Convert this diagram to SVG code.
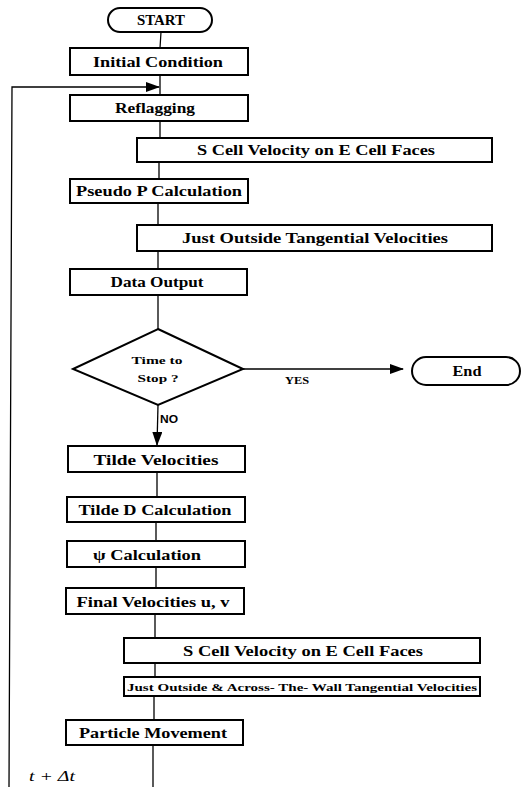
<svg xmlns="http://www.w3.org/2000/svg" width="523" height="787" viewBox="0 0 523 787">
<style>
.box{fill:#fff;stroke:#000;stroke-width:2}
.t{font-family:"Liberation Serif",serif;font-weight:bold;font-size:15px;fill:#000;text-anchor:middle}
.s{font-size:11px}
.ln{fill:none;stroke:#000;stroke-width:1.3}
</style>
<defs>
<marker id="ah" markerWidth="14" markerHeight="10" refX="13" refY="5" orient="auto" markerUnits="userSpaceOnUse">
<path d="M0,0 L14,5 L0,10 Z" fill="#000"/>
</marker>
</defs>
<rect width="523" height="787" fill="#fff"/>
<g id="connectors">
<line class="ln" x1="161" y1="32" x2="160" y2="48"/>
<line class="ln" x1="160" y1="75" x2="160" y2="95"/>
<path class="ln" d="M153,787 L153,745"/>
<path class="ln" d="M9,787 L12,87 L159,87" stroke-width="2" marker-end="url(#ah)"/>
<line class="ln" x1="160" y1="121" x2="160" y2="138"/>
<line class="ln" x1="159" y1="162" x2="159" y2="179"/>
<line class="ln" x1="158" y1="203" x2="158" y2="225"/>
<line class="ln" x1="158" y1="251" x2="158" y2="269"/>
<line class="ln" x1="158" y1="295" x2="158" y2="329"/>
<line class="ln" x1="243" y1="369" x2="403" y2="369" marker-end="url(#ah)"/>
<line class="ln" x1="158" y1="405" x2="157" y2="445" marker-end="url(#ah)"/>
<line class="ln" x1="157" y1="472" x2="157" y2="497"/>
<line class="ln" x1="156" y1="522" x2="156" y2="541"/>
<line class="ln" x1="156" y1="567" x2="156" y2="588"/>
<line class="ln" x1="155" y1="614" x2="155" y2="638"/>
<line class="ln" x1="155" y1="663" x2="155" y2="677"/>
<line class="ln" x1="154" y1="696" x2="154" y2="720"/>
<text x="29" y="781" font-family="Liberation Serif,serif" font-style="italic" font-size="14" textLength="46" lengthAdjust="spacingAndGlyphs">t + Δt</text>
<text x="285" y="384" font-family="Liberation Serif,serif" font-weight="bold" font-size="11" textLength="24" lengthAdjust="spacingAndGlyphs">YES</text>
<text x="160" y="423" font-family="Liberation Sans,sans-serif" font-weight="bold" font-size="10" textLength="18" lengthAdjust="spacingAndGlyphs">NO</text>
</g>
<g id="start">
<rect class="box" x="108" y="8" width="104" height="24" rx="12"/>
<text class="t" x="161" y="25" textLength="48" lengthAdjust="spacingAndGlyphs">START</text>
</g>
<g id="initial">
<rect class="box" x="70" y="48" width="178" height="27"/>
<text class="t" x="158" y="67" textLength="130" lengthAdjust="spacingAndGlyphs">Initial Condition</text>
</g>
<g id="reflagging">
<rect class="box" x="70" y="95" width="178" height="26"/>
<text class="t" x="155" y="113" textLength="80" lengthAdjust="spacingAndGlyphs">Reflagging</text>
</g>
<g id="scell1">
<rect class="box" x="137" y="138" width="355" height="24"/>
<text class="t" x="316" y="155" textLength="238" lengthAdjust="spacingAndGlyphs">S Cell Velocity on E Cell Faces</text>
</g>
<g id="pseudo">
<rect class="box" x="70" y="179" width="178" height="24"/>
<text class="t" x="159" y="196" textLength="166" lengthAdjust="spacingAndGlyphs">Pseudo P Calculation</text>
</g>
<g id="justoutside1">
<rect class="box" x="137" y="225" width="355" height="26"/>
<text class="t" x="315" y="243" textLength="266" lengthAdjust="spacingAndGlyphs">Just Outside Tangential Velocities</text>
</g>
<g id="dataoutput">
<rect class="box" x="70" y="269" width="177" height="26"/>
<text class="t" x="157" y="287" textLength="93" lengthAdjust="spacingAndGlyphs">Data Output</text>
</g>
<g id="decision">
<polygon class="box" points="158,329 243,369 158,405 73,369" stroke-width="1.4"/>
<text class="t s" x="157" y="364" textLength="51" lengthAdjust="spacingAndGlyphs">Time to</text>
<text class="t s" x="158" y="382" textLength="41" lengthAdjust="spacingAndGlyphs">Stop ?</text>
</g>
<g id="end">
<rect class="box" x="412" y="357" width="108" height="28" rx="14" stroke-width="1.3"/>
<text class="t" x="467" y="376" textLength="29" lengthAdjust="spacingAndGlyphs">End</text>
</g>
<g id="tildevel">
<rect class="box" x="68" y="446" width="177" height="26"/>
<text class="t" x="156" y="465" textLength="125" lengthAdjust="spacingAndGlyphs">Tilde Velocities</text>
</g>
<g id="tilded">
<rect class="box" x="67" y="497" width="178" height="25"/>
<text class="t" x="155" y="515" textLength="153" lengthAdjust="spacingAndGlyphs">Tilde D Calculation</text>
</g>
<g id="psi">
<rect class="box" x="67" y="541" width="178" height="26"/>
<text class="t" x="147" y="560" textLength="108" lengthAdjust="spacingAndGlyphs">ψ Calculation</text>
</g>
<g id="final">
<rect class="box" x="66" y="588" width="178" height="26"/>
<text class="t" x="153" y="607" textLength="153" lengthAdjust="spacingAndGlyphs">Final Velocities u, v</text>
</g>
<g id="scell2">
<rect class="box" x="124" y="638" width="356" height="25"/>
<text class="t" x="303" y="656" textLength="240" lengthAdjust="spacingAndGlyphs">S Cell Velocity on E Cell Faces</text>
</g>
<g id="justoutside2">
<rect class="box" x="124" y="677" width="356" height="19"/>
<text class="t s" x="302" y="691" textLength="350" lengthAdjust="spacingAndGlyphs">Just Outside &amp; Across- The- Wall Tangential Velocities</text>
</g>
<g id="particle">
<rect class="box" x="66" y="720" width="177" height="25"/>
<text class="t" x="153" y="738" textLength="148" lengthAdjust="spacingAndGlyphs">Particle Movement</text>
</g>
</svg>
